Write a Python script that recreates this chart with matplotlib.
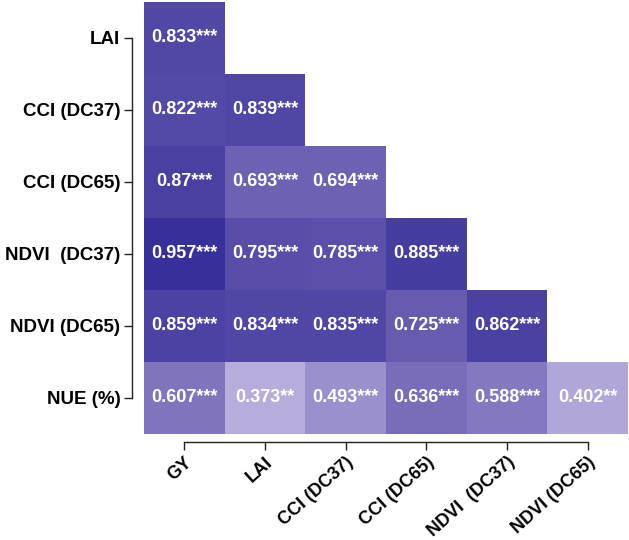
import numpy as np
import matplotlib
matplotlib.use("Agg")
import matplotlib.pyplot as plt
from matplotlib.colors import LinearSegmentedColormap
from matplotlib import font_manager

row_labels = ["LAI", "CCI (DC37)", "CCI (DC65)", "NDVI  (DC37)", "NDVI (DC65)", "NUE (%)"]
col_labels = ["GY", "LAI", "CCI (DC37)", "CCI (DC65)", "NDVI  (DC37)", "NDVI (DC65)"]

r_lai = [0.833]
r_cci37 = [0.822, 0.839]
r_cci65 = [0.87, 0.693, 0.694]
r_ndvi37 = [0.957, 0.795, 0.785, 0.885]
r_ndvi65 = [0.859, 0.834, 0.835, 0.725, 0.862]
r_nue = [0.607, 0.373, 0.493, 0.636, 0.588, 0.402]

s_lai = ["***"]
s_cci37 = ["***", "***"]
s_cci65 = ["***", "***", "***"]
s_ndvi37 = ["***", "***", "***", "***"]
s_ndvi65 = ["***", "***", "***", "***", "***"]
s_nue = ["***", "**", "***", "***", "***", "**"]

rows = [r_lai, r_cci37, r_cci65, r_ndvi37, r_ndvi65, r_nue]
stars = [s_lai, s_cci37, s_cci65, s_ndvi37, s_ndvi65, s_nue]
n = len(rows)
M = np.full((n, n), np.nan)
for i, r in enumerate(rows):
    M[i, :len(r)] = r
Mm = np.ma.masked_invalid(M)

cmap = LinearSegmentedColormap.from_list("pur", ["#b6addd", "#7266b5", "#38309a"])

names = {f.name for f in font_manager.fontManager.ttflist}
labfont = "Liberation Sans" if "Liberation Sans" in names else "DejaVu Sans"
narrow = "Liberation Sans Narrow" if "Liberation Sans Narrow" in names else labfont

fig = plt.figure(figsize=(6.29, 5.40), dpi=100)
ax = fig.add_axes([144/629, 1-434/540, (628-144)/629, (434-2)/540])
ax.pcolormesh(np.arange(n+1), np.arange(n+1), Mm, cmap=cmap, vmin=0.373, vmax=0.957)
ax.set_xlim(0, n)
ax.set_ylim(n, 0)

for s in ["top", "right"]:
    ax.spines[s].set_visible(False)
ax.spines["left"].set_position(("outward", 9))
ax.spines["bottom"].set_position(("outward", 6))
ax.spines["left"].set_bounds(0.5, n - 0.5)
ax.spines["bottom"].set_bounds(0.5, n - 0.5)
for s in ["left", "bottom"]:
    ax.spines[s].set_linewidth(1.0)
    ax.spines[s].set_color("#222222")

ann_size = 14.5 if narrow != labfont else 13
for i, r in enumerate(rows):
    for j, v in enumerate(r):
        txt = f"{v:g}{stars[i][j]}"
        ax.text(j + 0.5, i + 0.5, txt, ha="center", va="center", color="white",
                fontsize=ann_size, fontweight="bold", family=narrow)

ax.set_xticks(np.arange(n) + 0.5)
ax.set_yticks(np.arange(n) + 0.5)
ax.tick_params(axis="both", length=6, width=1.0, color="#222222", pad=2)
ax.set_yticklabels(row_labels, fontsize=13.5, fontweight="bold", family=labfont)
ax.set_xticklabels(col_labels, fontsize=13, fontweight="bold", family=labfont,
                   rotation=42, ha="right", va="top", rotation_mode="anchor")

fig.savefig("out.png", dpi=100)
